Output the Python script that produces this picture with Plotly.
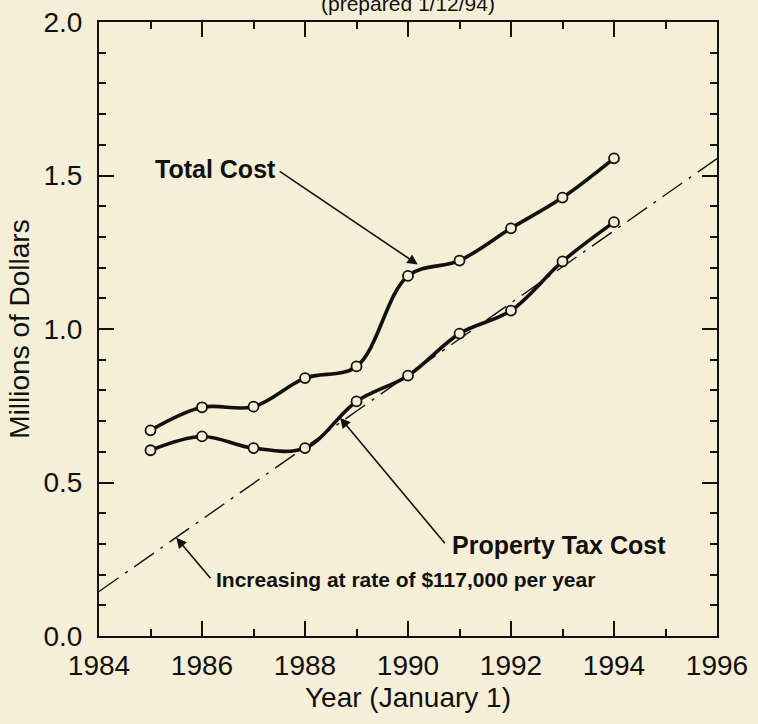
import plotly.graph_objects as go

# ---- data ----
years = [1985, 1986, 1987, 1988, 1989, 1990, 1991, 1992, 1993, 1994]
total_cost = [0.670, 0.745, 0.747, 0.840, 0.878, 1.173, 1.223, 1.328, 1.428, 1.556]
property_tax = [0.605, 0.650, 0.612, 0.612, 0.764, 0.848, 0.985, 1.060, 1.220, 1.348]

trend_years = [1984, 1996]
trend_values = [0.145, 1.555]

x_ticks = [1984, 1986, 1988, 1990, 1992, 1994, 1996]
y_ticks = [0.0, 0.5, 1.0, 1.5, 2.0]

BG = "#F5EFD7"
INK = "#111111"
FONT = "Liberation Sans, Arial, Helvetica, sans-serif"

fig = go.Figure()

fig.add_trace(go.Scatter(
    x=trend_years, y=trend_values, mode="lines",
    line=dict(color=INK, width=1.4, dash="24px,8px,3px,8px"),
    hoverinfo="skip", showlegend=False, cliponaxis=True,
))

for series in (total_cost, property_tax):
    fig.add_trace(go.Scatter(
        x=years, y=series, mode="lines+markers",
        line=dict(color=INK, width=3.6, shape="spline", smoothing=1.0),
        marker=dict(symbol="circle", size=10, color=BG,
                    line=dict(color=INK, width=1.8)),
        showlegend=False,
    ))

axis_common = dict(
    showgrid=False, zeroline=False, automargin=False,
    showline=True, linecolor=INK, linewidth=2,
    mirror="ticks", ticks="inside", ticklen=15, tickwidth=1.8, tickcolor=INK,
    tickfont=dict(family=FONT, size=28, color=INK),
)

fig.update_layout(
    width=758, height=724,
    margin=dict(l=99, r=41, t=22, b=88, autoexpand=False),
    paper_bgcolor=BG, plot_bgcolor=BG,
    font=dict(family=FONT, color=INK),
    xaxis=dict(
        range=[1984, 1996], tickmode="array", tickvals=x_ticks,
        minor=dict(dtick=1, ticks="inside", ticklen=7, tickwidth=1.5, tickcolor=INK),
        title=dict(text="Year (January 1)", font=dict(family=FONT, size=28, color=INK), standoff=8),
        ticklabelstandoff=3,
        **axis_common,
    ),
    yaxis=dict(
        range=[0, 2.0], tickmode="array", tickvals=y_ticks, tickformat=".1f",
        minor=dict(dtick=0.1, ticks="inside", ticklen=7, tickwidth=1.5, tickcolor=INK),
        title=dict(text="Millions of Dollars", font=dict(family=FONT, size=28, color=INK), standoff=6),
        ticklabelstandoff=9,
        **axis_common,
    ),
)

bold = dict(family=FONT, color=INK)

# subtitle, partly cut at the top as in the reference
fig.add_annotation(
    text="(prepared 1/12/94)", xref="paper", yref="paper", x=0.5, y=1,
    xanchor="center", yanchor="middle", yshift=19, showarrow=False,
    font=dict(family=FONT, size=21, color=INK),
)

# labels
fig.add_annotation(text="<b>Total Cost</b>", x=1987.48, y=1.52, xanchor="right",
                   yanchor="middle", showarrow=False, font=dict(size=25, **bold))
fig.add_annotation(text="<b>Property Tax Cost</b>", x=1990.82, y=0.297, xanchor="left",
                   yanchor="middle", showarrow=False, font=dict(size=25, **bold))
fig.add_annotation(text="<b>Increasing at rate of $117,000 per year</b>", x=1986.23, y=0.183,
                   xanchor="left", yanchor="middle", showarrow=False,
                   font=dict(size=21, **bold))

# arrows (tip at x,y ; tail at ax,ay)
arrow_style = dict(text="", showarrow=True, arrowhead=2, arrowsize=1.3, arrowwidth=1.6,
                   arrowcolor=INK, axref="x", ayref="y", standoff=0, startstandoff=0)
fig.add_annotation(x=1990.19, y=1.21, ax=1987.48, ay=1.517, **arrow_style)
fig.add_annotation(x=1988.68, y=0.711, ax=1990.74, ay=0.297, **arrow_style)
fig.add_annotation(x=1985.5, y=0.32, ax=1986.19, ay=0.183, **arrow_style)

fig.write_html(
    "out.html",
    config={"displayModeBar": False},
    post_script="document.body.style.margin='0';document.body.style.overflow='hidden';",
)
